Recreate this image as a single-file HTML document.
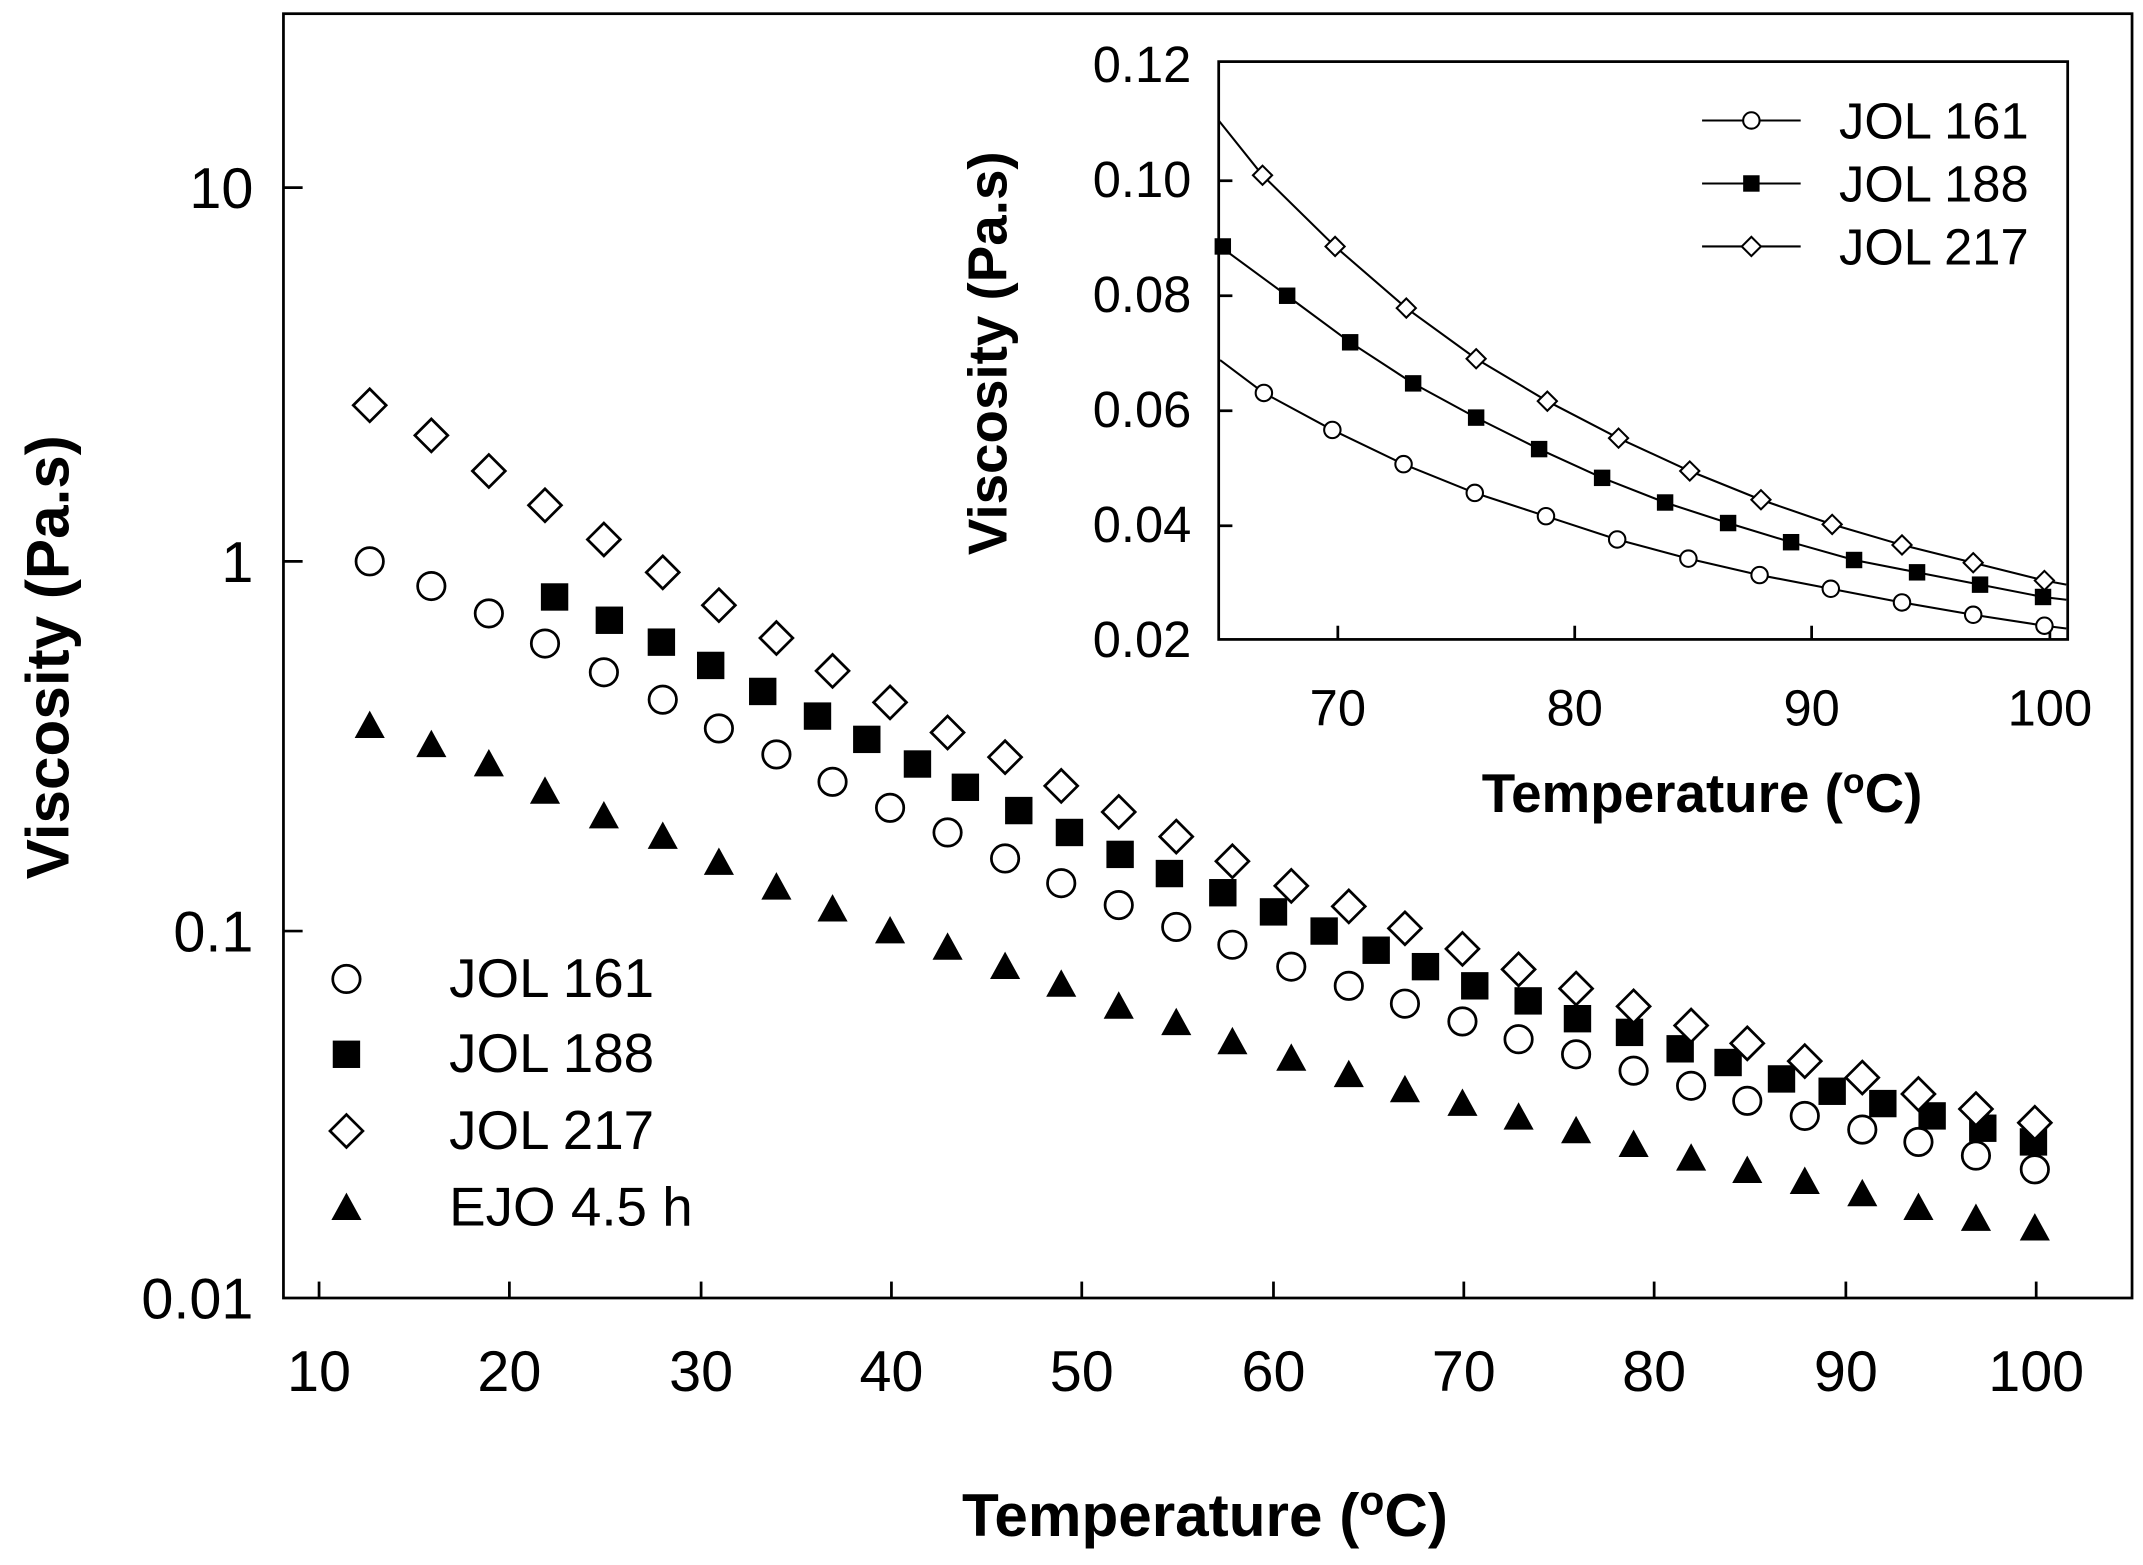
<!DOCTYPE html>
<html><head><meta charset="utf-8"><style>html,body{margin:0;padding:0;background:#fff}svg{display:block}</style></head>
<body>
<svg width="2143" height="1565" viewBox="0 0 1565 1143" preserveAspectRatio="none" font-family="Liberation Sans, Arial, sans-serif">
<defs>
<circle id="c" r="10" fill="#fff" stroke="#000" stroke-width="2"/>
<rect id="s" x="-10" y="-10" width="20" height="20" fill="#000"/>
<path id="d" d="M0,-12 L12,0 L0,12 L-12,0 Z" fill="#fff" stroke="#000" stroke-width="2"/>
<path id="t" d="M0,-11 L11,9 L-11,9 Z" fill="#000"/>
<circle id="ci" r="6" fill="#fff" stroke="#000" stroke-width="1.5"/>
<rect id="si" x="-6" y="-6" width="12" height="12" fill="#000"/>
<path id="di" d="M0,-7 L7,0 L0,7 L-7,0 Z" fill="#fff" stroke="#000" stroke-width="1.5"/>
</defs>
<rect x="207" y="10" width="1350" height="938" fill="none" stroke="#000" stroke-width="2"/>
<g stroke="#000" stroke-width="2">
<line x1="233" y1="948" x2="233" y2="936"/><line x1="372" y1="948" x2="372" y2="936"/><line x1="512" y1="948" x2="512" y2="936"/><line x1="651" y1="948" x2="651" y2="936"/><line x1="790" y1="948" x2="790" y2="936"/><line x1="930" y1="948" x2="930" y2="936"/><line x1="1069" y1="948" x2="1069" y2="936"/><line x1="1208" y1="948" x2="1208" y2="936"/><line x1="1348" y1="948" x2="1348" y2="936"/><line x1="1487" y1="948" x2="1487" y2="936"/>
<line x1="207" y1="137" x2="221" y2="137"/><line x1="207" y1="410" x2="221" y2="410"/><line x1="207" y1="680" x2="221" y2="680"/>
</g>
<g font-size="42" text-anchor="middle">
<text x="233" y="1016">10</text><text x="372" y="1016">20</text><text x="512" y="1016">30</text><text x="651" y="1016">40</text><text x="790" y="1016">50</text><text x="930" y="1016">60</text><text x="1069" y="1016">70</text><text x="1208" y="1016">80</text><text x="1348" y="1016">90</text><text x="1487" y="1016">100</text>
</g>
<g font-size="42" text-anchor="end">
<text x="185" y="152">10</text><text x="185" y="425">1</text><text x="185" y="695">0.1</text><text x="185" y="963">0.01</text>
</g>
<text x="880" y="1122" font-size="44" font-weight="bold" text-anchor="middle">Temperature (<tspan dy="-16" font-size="30">o</tspan><tspan dy="16">C)</tspan></text>
<text transform="translate(50,480) rotate(-90)" font-size="44" font-weight="bold" text-anchor="middle">Viscosity (Pa.s)</text>
<g>
<use href="#t" x="270" y="530"/><use href="#t" x="315" y="544"/><use href="#t" x="357" y="558"/><use href="#t" x="398" y="578"/><use href="#t" x="441" y="596"/><use href="#t" x="484" y="611"/><use href="#t" x="525" y="630"/><use href="#t" x="567" y="648"/><use href="#t" x="608" y="664"/><use href="#t" x="650" y="680"/><use href="#t" x="692" y="692"/><use href="#t" x="734" y="706"/><use href="#t" x="775" y="719"/><use href="#t" x="817" y="735"/><use href="#t" x="859" y="747"/><use href="#t" x="900" y="761"/><use href="#t" x="943" y="773"/><use href="#t" x="985" y="785"/><use href="#t" x="1026" y="796"/><use href="#t" x="1068" y="806"/><use href="#t" x="1109" y="816"/><use href="#t" x="1151" y="826"/><use href="#t" x="1193" y="836"/><use href="#t" x="1235" y="846"/><use href="#t" x="1276" y="855"/><use href="#t" x="1318" y="863"/><use href="#t" x="1360" y="872"/><use href="#t" x="1401" y="882"/><use href="#t" x="1443" y="890"/><use href="#t" x="1486" y="897"/>
<use href="#c" x="270" y="410"/><use href="#c" x="315" y="428"/><use href="#c" x="357" y="448"/><use href="#c" x="398" y="470"/><use href="#c" x="441" y="491"/><use href="#c" x="484" y="511"/><use href="#c" x="525" y="532"/><use href="#c" x="567" y="551"/><use href="#c" x="608" y="571"/><use href="#c" x="650" y="590"/><use href="#c" x="692" y="608"/><use href="#c" x="734" y="627"/><use href="#c" x="775" y="645"/><use href="#c" x="817" y="661"/><use href="#c" x="859" y="677"/><use href="#c" x="900" y="690"/><use href="#c" x="943" y="706"/><use href="#c" x="985" y="720"/><use href="#c" x="1026" y="733"/><use href="#c" x="1068" y="746"/><use href="#c" x="1109" y="759"/><use href="#c" x="1151" y="770"/><use href="#c" x="1193" y="782"/><use href="#c" x="1235" y="793"/><use href="#c" x="1276" y="804"/><use href="#c" x="1318" y="815"/><use href="#c" x="1360" y="825"/><use href="#c" x="1401" y="834"/><use href="#c" x="1443" y="844"/><use href="#c" x="1486" y="854"/>
<use href="#s" x="405" y="436"/><use href="#s" x="445" y="453"/><use href="#s" x="483" y="469"/><use href="#s" x="519" y="486"/><use href="#s" x="557" y="505"/><use href="#s" x="597" y="523"/><use href="#s" x="633" y="540"/><use href="#s" x="670" y="558"/><use href="#s" x="705" y="575"/><use href="#s" x="744" y="592"/><use href="#s" x="781" y="608"/><use href="#s" x="818" y="624"/><use href="#s" x="854" y="638"/><use href="#s" x="893" y="652"/><use href="#s" x="930" y="666"/><use href="#s" x="967" y="680"/><use href="#s" x="1005" y="694"/><use href="#s" x="1041" y="706"/><use href="#s" x="1077" y="720"/><use href="#s" x="1116" y="731"/><use href="#s" x="1152" y="744"/><use href="#s" x="1190" y="754"/><use href="#s" x="1227" y="766"/><use href="#s" x="1262" y="776"/><use href="#s" x="1301" y="788"/><use href="#s" x="1338" y="797"/><use href="#s" x="1375" y="806"/><use href="#s" x="1411" y="815"/><use href="#s" x="1448" y="824"/><use href="#s" x="1485" y="834"/>
<use href="#d" x="270" y="296"/><use href="#d" x="315" y="318"/><use href="#d" x="357" y="344"/><use href="#d" x="398" y="369"/><use href="#d" x="441" y="394"/><use href="#d" x="484" y="418"/><use href="#d" x="525" y="442"/><use href="#d" x="567" y="466"/><use href="#d" x="608" y="490"/><use href="#d" x="650" y="513"/><use href="#d" x="692" y="535"/><use href="#d" x="734" y="553"/><use href="#d" x="775" y="574"/><use href="#d" x="817" y="593"/><use href="#d" x="859" y="611"/><use href="#d" x="900" y="629"/><use href="#d" x="943" y="647"/><use href="#d" x="985" y="662"/><use href="#d" x="1026" y="678"/><use href="#d" x="1068" y="693"/><use href="#d" x="1109" y="708"/><use href="#d" x="1151" y="722"/><use href="#d" x="1193" y="735"/><use href="#d" x="1235" y="749"/><use href="#d" x="1276" y="762"/><use href="#d" x="1318" y="775"/><use href="#d" x="1360" y="787"/><use href="#d" x="1401" y="799"/><use href="#d" x="1443" y="810"/><use href="#d" x="1486" y="820"/>
</g>
<g>
<use href="#c" x="253" y="715"/><text x="328" y="728" font-size="40">JOL 161</text>
<use href="#s" x="253" y="770"/><text x="328" y="783" font-size="40">JOL 188</text>
<use href="#d" x="253" y="826"/><text x="328" y="839" font-size="40">JOL 217</text>
<use href="#t" x="253" y="882"/><text x="328" y="895" font-size="40">EJO 4.5 h</text>
</g>
<rect x="890" y="45" width="620" height="422" fill="#fff" stroke="#000" stroke-width="2"/>
<g font-size="37" text-anchor="end">
<text x="870" y="60">0.12</text><text x="870" y="144">0.10</text><text x="870" y="228">0.08</text><text x="870" y="312">0.06</text><text x="870" y="396">0.04</text><text x="870" y="480">0.02</text>
</g>
<g font-size="37" text-anchor="middle">
<text x="977" y="530">70</text><text x="1150" y="530">80</text><text x="1323" y="530">90</text><text x="1497" y="530">100</text>
</g>
<g stroke="#000" stroke-width="2">
<line x1="977" y1="467" x2="977" y2="457"/><line x1="1150" y1="467" x2="1150" y2="457"/><line x1="1323" y1="467" x2="1323" y2="457"/><line x1="1497" y1="467" x2="1497" y2="457"/>
<line x1="890" y1="132" x2="900" y2="132"/><line x1="890" y1="216" x2="900" y2="216"/><line x1="890" y1="300" x2="900" y2="300"/><line x1="890" y1="384" x2="900" y2="384"/>
</g>
<text x="1243" y="593" font-size="40" font-weight="bold" text-anchor="middle">Temperature (<tspan dy="-14" font-size="26">o</tspan><tspan dy="14">C)</tspan></text>
<text transform="translate(735,258) rotate(-90)" font-size="40" font-weight="bold" text-anchor="middle">Viscosity (Pa.s)</text>
<g fill="none" stroke="#000" stroke-width="1.5">
<polyline points="891,263 923,287 973,314 1025,339 1077,360 1129,377 1181,394 1233,408 1285,420 1337,430 1389,440 1441,449 1493,457 1509,459"/>
<polyline points="891,180 940,216 986,250 1032,280 1078,305 1124,328 1170,349 1216,367 1262,382 1308,396 1354,409 1400,418 1446,427 1492,436 1509,438"/>
<polyline points="890,88 922,128 975,180 1027,225 1078,262 1130,293 1182,320 1234,344 1286,365 1338,383 1389,398 1441,411 1493,424 1509,427"/>
<line x1="1243" y1="88" x2="1315" y2="88"/><line x1="1243" y1="134" x2="1315" y2="134"/><line x1="1243" y1="180" x2="1315" y2="180"/>
</g>
<g>
<use href="#ci" x="923" y="287"/><use href="#ci" x="973" y="314"/><use href="#ci" x="1025" y="339"/><use href="#ci" x="1077" y="360"/><use href="#ci" x="1129" y="377"/><use href="#ci" x="1181" y="394"/><use href="#ci" x="1233" y="408"/><use href="#ci" x="1285" y="420"/><use href="#ci" x="1337" y="430"/><use href="#ci" x="1389" y="440"/><use href="#ci" x="1441" y="449"/><use href="#ci" x="1493" y="457"/>
<use href="#si" x="893" y="180"/><use href="#si" x="940" y="216"/><use href="#si" x="986" y="250"/><use href="#si" x="1032" y="280"/><use href="#si" x="1078" y="305"/><use href="#si" x="1124" y="328"/><use href="#si" x="1170" y="349"/><use href="#si" x="1216" y="367"/><use href="#si" x="1262" y="382"/><use href="#si" x="1308" y="396"/><use href="#si" x="1354" y="409"/><use href="#si" x="1400" y="418"/><use href="#si" x="1446" y="427"/><use href="#si" x="1492" y="436"/>
<use href="#di" x="922" y="128"/><use href="#di" x="975" y="180"/><use href="#di" x="1027" y="225"/><use href="#di" x="1078" y="262"/><use href="#di" x="1130" y="293"/><use href="#di" x="1182" y="320"/><use href="#di" x="1234" y="344"/><use href="#di" x="1286" y="365"/><use href="#di" x="1338" y="383"/><use href="#di" x="1389" y="398"/><use href="#di" x="1441" y="411"/><use href="#di" x="1493" y="424"/>
</g>
<use href="#ci" x="1279" y="88"/><use href="#si" x="1279" y="134"/><use href="#di" x="1279" y="180"/>
<g font-size="37"><text x="1343" y="101">JOL 161</text><text x="1343" y="147">JOL 188</text><text x="1343" y="193">JOL 217</text></g>
</svg>
</body></html>
